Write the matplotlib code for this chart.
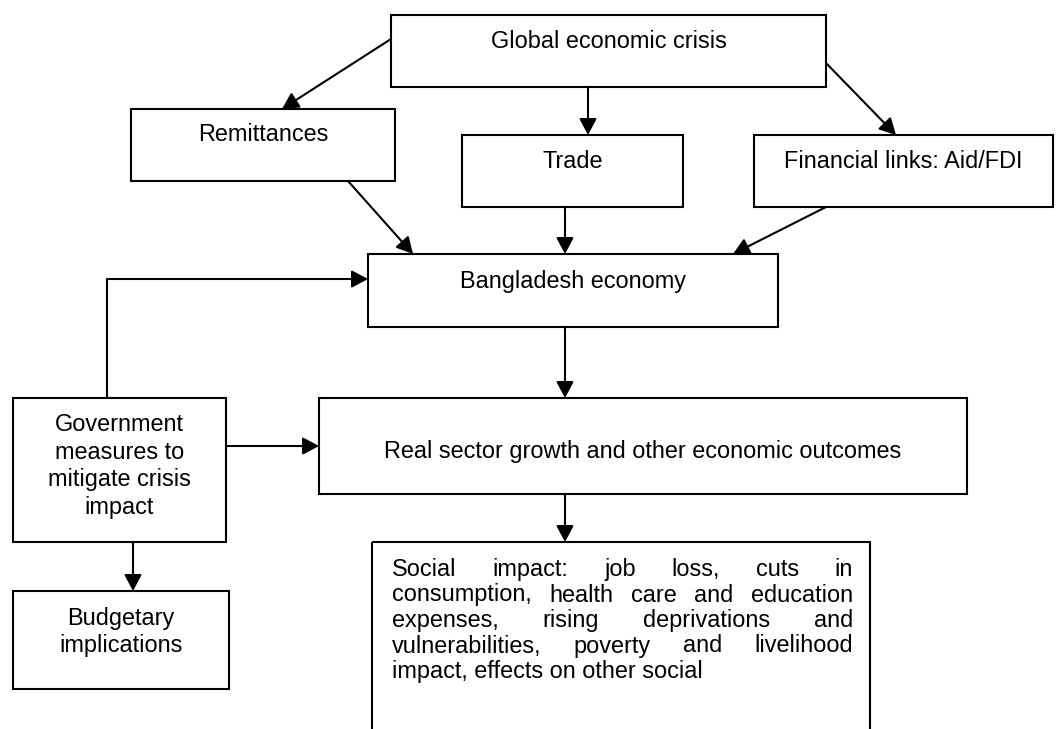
import matplotlib
matplotlib.use("Agg")
import matplotlib.pyplot as plt
from matplotlib.patches import Rectangle, FancyArrowPatch

# ---- content ----
box_labels = {
    "global": ["Global economic crisis"],
    "remit": ["Remittances"],
    "trade": ["Trade"],
    "fin": ["Financial links: Aid/FDI"],
    "bd": ["Bangladesh economy"],
    "gov": ["Government", "measures to", "mitigate crisis", "impact"],
    "real": ["Real sector growth and other economic outcomes"],
    "budget": ["Budgetary", "implications"],
}
social_lines = [
    "Social impact: job loss, cuts in",
    "consumption, health care and education",
    "expenses, rising deprivations and",
    "vulnerabilities, poverty and livelihood",
    "impact, effects on other social",
]
edges = [("global", "remit"), ("global", "trade"), ("global", "fin"),
         ("remit", "bd"), ("trade", "bd"), ("fin", "bd"),
         ("gov", "bd"), ("bd", "real"), ("gov", "real"),
         ("real", "social"), ("gov", "budget")]

# ---- layout (pixels) ----
W, H = 1059, 729
boxes = {  # x0, y0, x1, y1
    "global": (391, 15, 826, 87),
    "remit": (131, 109, 395, 181),
    "trade": (462, 135, 683, 207),
    "fin": (754, 135, 1053, 207),
    "bd": (368, 254, 778, 327),
    "gov": (13, 398, 226, 542),
    "real": (319, 398, 967, 494),
    "budget": (13, 591, 229, 689),
    "social": (372, 542, 870, 760),
}
text_y = {"global": 40, "remit": 133, "trade": 160, "fin": 160, "bd": 280,
          "gov": 423, "real": 450, "budget": 617}
line_gap = {"gov": 27.7, "budget": 27}
edge_pts = {
    ("global", "remit"): [(391, 39), (282, 109)],
    ("global", "trade"): [(588, 87), (588, 135)],
    ("global", "fin"): [(826, 63), (896, 135)],
    ("remit", "bd"): [(348, 181), (413, 254)],
    ("trade", "bd"): [(565, 207), (565, 254)],
    ("fin", "bd"): [(826, 207), (733, 254)],
    ("gov", "bd"): [(107, 398), (107, 279), (368, 279)],
    ("bd", "real"): [(565, 327), (565, 398)],
    ("gov", "real"): [(226, 446), (319, 446)],
    ("real", "social"): [(565, 494), (565, 542)],
    ("gov", "budget"): [(133, 542), (133, 591)],
}

FONT = "Liberation Sans"
FS = 16.9
LW = 1.5
BASE = 8.0  # baseline offset below the visual line centre (px)

fig = plt.figure(figsize=(W / 100, H / 100), dpi=100)
ax = fig.add_axes([0, 0, 1, 1])
ax.set_xlim(0, W)
ax.set_ylim(H, 0)
ax.axis("off")

for k, (x0, y0, x1, y1) in boxes.items():
    ax.add_patch(Rectangle((x0, y0), x1 - x0, y1 - y0, fill=False,
                           edgecolor="black", linewidth=LW, zorder=2))

for k, lines in box_labels.items():
    x0, y0, x1, y1 = boxes[k]
    cx = (x0 + x1) / 2
    for i, ln in enumerate(lines):
        ax.text(cx, text_y[k] + i * line_gap.get(k, 27) + BASE, ln, ha="center",
                va="baseline", fontsize=FS, family=FONT, color="black")

for e in edges:
    pts = edge_pts[e]
    if len(pts) > 2:
        xs = [p[0] for p in pts[:-1]]
        ys = [p[1] for p in pts[:-1]]
        ax.plot(xs, ys, color="black", lw=LW, solid_capstyle="butt")
    a = FancyArrowPatch(pts[-2], pts[-1], arrowstyle="-|>,head_length=0.6,head_width=0.32",
                        mutation_scale=16.5, color="black", lw=LW,
                        shrinkA=0, shrinkB=0, zorder=3)
    ax.add_patch(a)

# justified social text
fig.canvas.draw()
r = fig.canvas.get_renderer()
left, right = 392, 853
sy0, sgap = 568, 25.5


def width_px(s):
    t = ax.text(0, 0, s, fontsize=FS, family=FONT)
    bb = t.get_window_extent(renderer=r)
    t.remove()
    return bb.width


for i, ln in enumerate(social_lines):
    y = sy0 + i * sgap + BASE
    if i == len(social_lines) - 1:
        ax.text(left, y, ln, ha="left", va="baseline", fontsize=FS, family=FONT)
        continue
    words = ln.split()
    ws = [width_px(w) for w in words]
    gap = (right - left - sum(ws)) / (len(words) - 1)
    x = left
    for w, wd in zip(words, ws):
        ax.text(x, y, w, ha="left", va="baseline", fontsize=FS, family=FONT)
        x += wd + gap

fig.savefig("out.png", dpi=100, facecolor="white")
